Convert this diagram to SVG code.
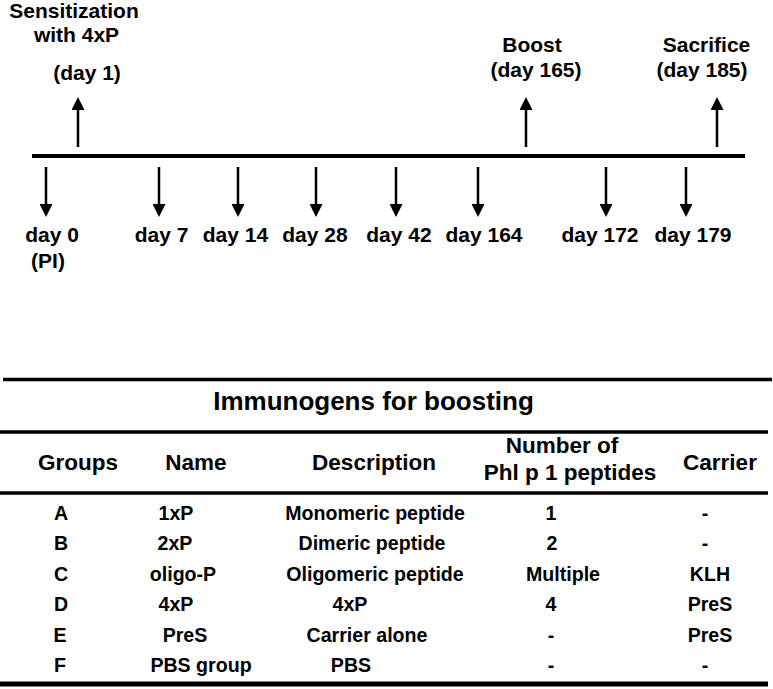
<svg xmlns="http://www.w3.org/2000/svg" width="773" height="689" viewBox="0 0 773 689">
<style>
text{font-family:"Liberation Sans",Arial,sans-serif;font-weight:bold;fill:#000;text-anchor:middle}
.lbl{font-size:21px}
.hd{font-size:22.5px}
.ttl{font-size:26px}
.row{font-size:19.6px}
.arr{stroke:#000;stroke-width:2.5;fill:none;marker-end:url(#ah)}
.rule{stroke:#000;fill:none}
</style>
<defs>
<marker id="ah" markerUnits="userSpaceOnUse" markerWidth="13" markerHeight="13" viewBox="0 0 13 13" refX="0" refY="6.5" orient="auto">
<path d="M0,0 L13,6.5 L0,13 z" fill="#000"/>
</marker>
</defs>
<rect width="773" height="689" fill="#fff"/>
<g id="timeline">
<line class="rule" x1="32" y1="156" x2="745" y2="156" stroke-width="4"/>
</g>
<g id="connectors">
<path class="arr" d="M78,147 V110"/>
<path class="arr" d="M526,147 V110"/>
<path class="arr" d="M717,147 V110"/>
<path class="arr" d="M46,167 V204"/>
<path class="arr" d="M159,167 V204"/>
<path class="arr" d="M238,167 V204"/>
<path class="arr" d="M316,167 V204"/>
<path class="arr" d="M396,167 V204"/>
<path class="arr" d="M478,167 V204"/>
<path class="arr" d="M606,167 V204"/>
<path class="arr" d="M686,167 V204"/>
</g>
<g id="sensitization"><text class="lbl" x="74" y="18">Sensitization</text><text class="lbl" x="76.5" y="42">with 4xP</text><text class="lbl" x="87" y="80">(day 1)</text></g>
<g id="boost"><text class="lbl" x="532" y="52">Boost</text><text class="lbl" x="536" y="77">(day 165)</text></g>
<g id="sacrifice"><text class="lbl" x="706.5" y="52">Sacrifice</text><text class="lbl" x="702" y="77">(day 185)</text></g>
<g id="day0"><text class="lbl" x="52" y="242">day 0</text><text class="lbl" x="48" y="268">(PI)</text></g>
<g id="day7"><text class="lbl" x="161.5" y="242">day 7</text></g>
<g id="day14"><text class="lbl" x="235.5" y="242">day 14</text></g>
<g id="day28"><text class="lbl" x="315" y="242">day 28</text></g>
<g id="day42"><text class="lbl" x="399" y="242">day 42</text></g>
<g id="day164"><text class="lbl" x="484" y="242">day 164</text></g>
<g id="day172"><text class="lbl" x="600" y="242">day 172</text></g>
<g id="day179"><text class="lbl" x="693" y="242">day 179</text></g>
<g id="table">
<line class="rule" x1="3" y1="379.5" x2="772" y2="379.5" stroke-width="3.3"/>
<line class="rule" x1="0" y1="432" x2="768" y2="432" stroke-width="3.3"/>
<line class="rule" x1="0" y1="493" x2="768" y2="493" stroke-width="3.3"/>
<line class="rule" x1="0" y1="684" x2="768" y2="684" stroke-width="5"/>
<text class="ttl" x="373.5" y="410">Immunogens for boosting</text>
<text class="hd" x="78" y="470">Groups</text>
<text class="hd" x="196" y="470">Name</text>
<text class="hd" x="374" y="470">Description</text>
<text class="hd" x="562" y="453">Number of</text>
<text class="hd" x="570" y="480">Phl p 1 peptides</text>
<text class="hd" x="720" y="470">Carrier</text>
<g class="row">
<text class="row" x="61" y="520">A</text><text class="row" x="176" y="520">1xP</text><text class="row" x="375" y="520">Monomeric peptide</text><text class="row" x="551" y="520">1</text><text class="row" x="705" y="520">-</text>
<text class="row" x="61" y="550">B</text><text class="row" x="175" y="550">2xP</text><text class="row" x="372" y="550">Dimeric peptide</text><text class="row" x="552" y="550">2</text><text class="row" x="705" y="550">-</text>
<text class="row" x="61" y="581">C</text><text class="row" x="183" y="581">oligo-P</text><text class="row" x="375" y="581">Oligomeric peptide</text><text class="row" x="563" y="581">Multiple</text><text class="row" x="710" y="581">KLH</text>
<text class="row" x="61" y="611">D</text><text class="row" x="176" y="611">4xP</text><text class="row" x="350" y="611">4xP</text><text class="row" x="551" y="611">4</text><text class="row" x="710" y="611">PreS</text>
<text class="row" x="60" y="642">E</text><text class="row" x="185" y="642">PreS</text><text class="row" x="367" y="642">Carrier alone</text><text class="row" x="551" y="642">-</text><text class="row" x="710" y="642">PreS</text>
<text class="row" x="60" y="672">F</text><text class="row" x="201" y="672">PBS group</text><text class="row" x="351" y="672">PBS</text><text class="row" x="551" y="672">-</text><text class="row" x="705" y="672">-</text>
</g>
</g>
</svg>
